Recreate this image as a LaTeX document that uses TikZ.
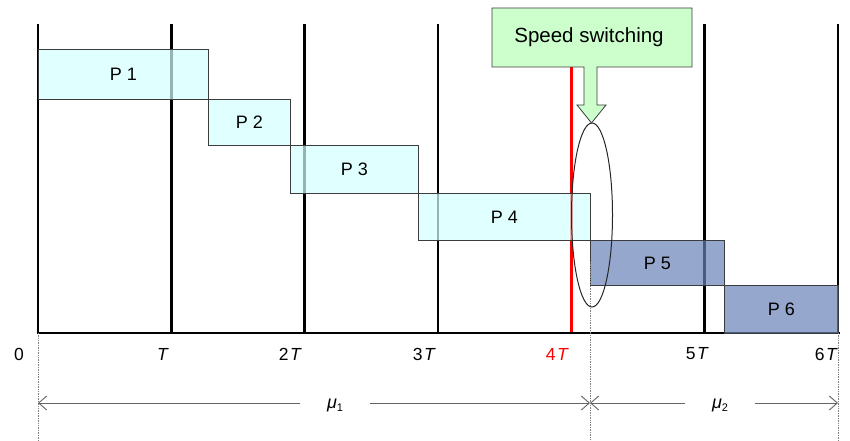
\documentclass[tikz,border=0pt]{standalone}
\usepackage{fontspec}
\setmainfont{Liberation Sans}
\usetikzlibrary{shapes.geometric,arrows.meta}
\definecolor{cyanfill}{RGB}{211,255,255}
\definecolor{bluefill}{RGB}{104,129,182}
\definecolor{greenfill}{RGB}{204,255,204}
\definecolor{boxline}{RGB}{60,60,60}
\definecolor{arrgray}{RGB}{100,100,100}
\tikzset{
  slot/.style={draw=boxline, line width=0.8pt, fill opacity=0.7, text opacity=1,
    anchor=north west, inner sep=0pt, font=\fontsize{18}{20}\selectfont},
  pcyan/.style={slot, fill=cyanfill},
  pblue/.style={slot, fill=bluefill},
  timeline/.style={line width=2.6pt, black},
  ticklbl/.style={anchor=east, inner sep=0pt, font=\fontsize{17.5}{20}\selectfont},
  mulbl/.style={inner sep=0pt, minimum width=70pt, font=\fontsize{18}{20}\selectfont},
  guide/.style={densely dotted, line width=0.7pt, gray},
  span/.style={arrgray, line width=0.9pt, -{Straight Barb[length=8pt,width=14pt]}}
}
\begin{document}
\begin{tikzpicture}[x=1pt,y=-1pt]
\useasboundingbox (0,0) rectangle (850,441);
% grid lines
\foreach \i/\x in {0/38,1/171.3,2/304.7,3/438,5/704.7,6/838}{
  \coordinate (top\i) at (\x,24);
  \coordinate (bot\i) at (\x,333);
  \draw[timeline] (top\i) -- (bot\i);
}
\coordinate (top4) at (571.3,67);
\coordinate (bot4) at (571.3,333);
\draw[red, line width=2.6pt] (top4) -- (bot4);
\coordinate (base0) at (36.7,333);
\coordinate (base1) at (840,333);
\draw[timeline] (base0) -- (base1);
% boxes
\node[pcyan, minimum width=170pt, minimum height=50pt] (p1) at (38,49) {P 1};
\node[pcyan, minimum width=82pt, minimum height=46pt] (p2) at (208,99) {P 2};
\node[pcyan, minimum width=128pt, minimum height=48pt] (p3) at (290,145) {P 3};
\node[pcyan, minimum width=172pt, minimum height=47pt] (p4) at (418,193) {P 4};
\node[pblue, minimum width=134pt, minimum height=45pt] (p5) at (590,240) {P 5};
\node[pblue, minimum width=114pt, minimum height=48pt] (p6) at (724,285) {P 6};
% guides
\coordinate (g0a) at (38,333); \coordinate (g0b) at (38,441);
\coordinate (g1a) at (590,262); \coordinate (g1b) at (590,441);
\coordinate (g2a) at (838,333); \coordinate (g2b) at (838,441);
\draw[guide] (g0a) -- (g0b);
\draw[guide] (g1a) -- (g1b);
\draw[guide] (g2a) -- (g2b);
% ellipse
\node[draw=black!85, line width=1pt, ellipse, minimum width=41pt, minimum height=184pt, inner sep=0pt] (ell) at (592,215) {};
% callout
\draw[boxline, line width=0.8pt, fill=greenfill]
  (492,8) -- (692,8) -- (692,67) -- (597,67) -- (597,105) -- (606,105)
  -- (591.5,123) -- (577,105) -- (584,105) -- (584,67) -- (492,67) -- cycle;
\node[inner sep=0pt, font=\fontsize{20.5}{24}\selectfont] (speed) at (589,37) {Speed switching};
% tick labels
\node[ticklbl] (l0) at (24,354) {0};
\node[ticklbl] (l1) at (169,354) {\textit{T}};
\node[ticklbl] (l2) at (302,354) {2\hspace{1.5pt}\textit{T}};
\node[ticklbl] (l3) at (436,354) {3\hspace{1.5pt}\textit{T}};
\node[ticklbl, text=red] (l4) at (569,354) {4\hspace{1.5pt}\textit{T}};
\node[ticklbl] (l5) at (709,354) {5\hspace{1.5pt}\textit{T}};
\node[ticklbl] (l6) at (838,354) {6\hspace{1.5pt}\textit{T}};
% spans
\coordinate (s0) at (38,403);
\coordinate (s1) at (590,403);
\coordinate (s2) at (838,403);
\node[mulbl] (mu1) at (335,405) {\textit{μ}\raisebox{-3.5pt}{\fontsize{11}{11}\selectfont 1}};
\node[mulbl] (mu2) at (720,405) {\textit{μ}\raisebox{-3.5pt}{\fontsize{11}{11}\selectfont 2}};
\draw[span] (mu1.west |- s0) -- (s0);
\draw[span] (mu1.east |- s0) -- (s1);
\draw[span] (mu2.west |- s0) -- (s1);
\draw[span] (mu2.east |- s0) -- (s2);
\end{tikzpicture}
\end{document}
